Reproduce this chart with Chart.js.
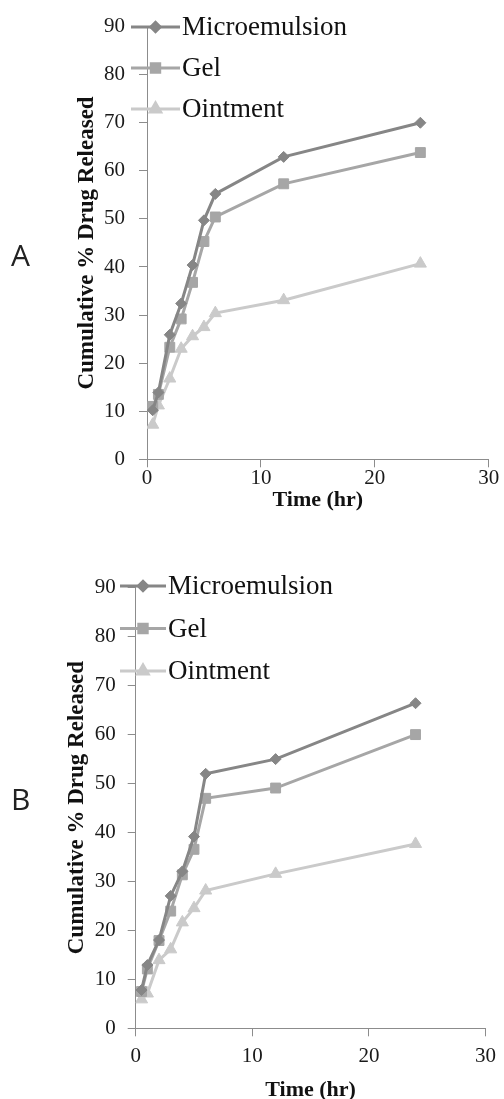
<!DOCTYPE html>
<html>
<head>
<meta charset="utf-8">
<script src="https://cdn.jsdelivr.net/npm/chart.js@4.4.0/dist/chart.umd.min.js"></script>
<style>
    html, body { margin: 0; padding: 0; background: #fff; overflow: hidden; }
    .panel { position: absolute; left: 0; width: 504px; }
    .panel-label { position: absolute; left: 11px; font-family: 'Open Sans', sans-serif; font-size: 30px; color: #222; line-height: 1; }
</style>
</head>
<body>
<div class="panel" style="top:0;height:530px;"><canvas id="chartA" width="504" height="530"></canvas></div>
<div class="panel" style="top:530px;height:580px;"><canvas id="chartB" width="504" height="580"></canvas></div>
<div class="panel-label" style="top:240px;">A</div>
<div class="panel-label" style="top:784px;">B</div>
<script>
// Sampling times (hr)
const timePoints = [0.5, 1, 2, 3, 4, 5, 6, 12, 24];
const seriesNames = ['Microemulsion', 'Gel', 'Ointment'];

// Panel A - cumulative % drug released
const aMicroemulsion = [10.2, 13.9, 25.9, 32.4, 40.4, 49.7, 55.2, 62.9, 70.0];
const aGel = [11.0, 13.5, 23.3, 29.2, 36.8, 45.3, 50.4, 57.3, 63.8];
const aOintment = [7.2, 11.2, 16.8, 23.0, 25.6, 27.5, 30.4, 33.1, 40.7];

// Panel B - cumulative % drug released
const bMicroemulsion = [7.8, 12.9, 18.0, 27.0, 32.0, 39.1, 51.9, 54.9, 66.3];
const bGel = [7.5, 12.1, 17.9, 23.9, 31.3, 36.5, 46.9, 49.0, 59.9];
const bOintment = [5.9, 7.1, 13.9, 16.1, 21.6, 24.5, 28.1, 31.5, 37.6];

// Axis ticks
const xTickValues = [0, 10, 20, 30];
const yTickValues = [0, 10, 20, 30, 40, 50, 60, 70, 80, 90];

const seriesStyles = [
    { color: '#868686', pointStyle: 'rectRot', radius: 5.5 },
    { color: '#a6a6a6', pointStyle: 'rect', radius: 7 },
    { color: '#cacaca', pointStyle: 'triangle', radius: 7 }
];

const axisColor = '#8c8c8c';
const serif = "'Liberation Serif', 'Times New Roman', serif";

// Legend drawn inside the plot, line sample + marker + label
const insideLegend = {
    id: 'insideLegend',
    afterDraw(chart, args, opts) {
        const ctx = chart.ctx;
        ctx.save();
        ctx.font = opts.font;
        ctx.textBaseline = 'middle';
        ctx.textAlign = 'left';
        chart.data.datasets.forEach((ds, i) => {
            const y = opts.y + i * opts.gap;
            ctx.strokeStyle = ds.borderColor;
            ctx.lineWidth = ds.borderWidth;
            ctx.beginPath();
            ctx.moveTo(opts.x, y);
            ctx.lineTo(opts.x + opts.lineLength, y);
            ctx.stroke();
            ctx.fillStyle = ds.borderColor;
            ctx.strokeStyle = ds.borderColor;
            if (Chart.helpers && Chart.helpers.drawPoint) {
                Chart.helpers.drawPoint(ctx, {
                    pointStyle: ds.pointStyle,
                    radius: ds.pointRadius * 0.85,
                    borderWidth: 1,
                    rotation: 0
                }, opts.x + opts.lineLength / 2, y);
            }
            ctx.fillStyle = '#111';
            ctx.fillText(ds.label, opts.x + opts.lineLength + opts.textGap, y + 1);
        });
        ctx.restore();
    }
};

function buildDatasets(values) {
    return values.map((vals, i) => ({
        label: seriesNames[i],
        data: timePoints.map((t, j) => ({ x: t, y: vals[j] })),
        borderColor: seriesStyles[i].color,
        backgroundColor: seriesStyles[i].color,
        pointBackgroundColor: seriesStyles[i].color,
        pointBorderColor: seriesStyles[i].color,
        pointStyle: seriesStyles[i].pointStyle,
        pointRadius: seriesStyles[i].radius,
        pointBorderWidth: 1,
        borderWidth: 3,
        tension: 0,
        fill: false
    }));
}

function makeChart(canvasId, values, layout) {
    const ctx = document.getElementById(canvasId).getContext('2d');
    return new Chart(ctx, {
        type: 'line',
        data: { datasets: buildDatasets(values) },
        options: {
            responsive: false,
            animation: false,
            layout: { padding: { top: layout.top, right: layout.right, left: 0, bottom: 0 } },
            scales: {
                x: {
                    type: 'linear',
                    min: 0,
                    max: 30,
                    afterBuildTicks: scale => { scale.ticks = xTickValues.map(v => ({ value: v })); },
                    afterFit: scale => { scale.height = layout.xHeight; },
                    grid: { drawOnChartArea: false, drawTicks: true, tickLength: 8, color: axisColor },
                    border: { color: axisColor, width: 1 },
                    ticks: { color: '#1a1a1a', font: { family: serif, size: 21 }, padding: layout.xTickPad, maxRotation: 0 },
                    title: {
                        display: true,
                        text: 'Time (hr)',
                        color: '#111',
                        font: { family: serif, size: 22, weight: 'bold' },
                        padding: { top: 0, bottom: layout.xTitlePad }
                    }
                },
                y: {
                    min: 0,
                    max: 90,
                    afterBuildTicks: scale => { scale.ticks = yTickValues.map(v => ({ value: v })); },
                    afterFit: scale => { scale.width = layout.left; },
                    grid: { drawOnChartArea: false, drawTicks: true, tickLength: 8, color: axisColor },
                    border: { color: axisColor, width: 1 },
                    ticks: { color: '#1a1a1a', font: { family: serif, size: 21 }, padding: layout.yTickPad },
                    title: {
                        display: true,
                        text: 'Cumulative % Drug Released',
                        color: '#111',
                        font: { family: serif, size: 23, weight: 'bold' },
                        padding: { top: layout.yTitlePad, bottom: 0 }
                    }
                }
            },
            plugins: {
                legend: { display: false },
                tooltip: { enabled: false },
                insideLegend: {
                    x: layout.legendX,
                    y: layout.legendY,
                    gap: layout.legendGap,
                    lineLength: layout.legendLine,
                    textGap: 2,
                    font: "27px " + serif
                }
            }
        },
        plugins: [insideLegend]
    });
}

makeChart('chartA', [aMicroemulsion, aGel, aOintment], {
    top: 25, right: 15.3, left: 147, xHeight: 70.7,
    xTickPad: -1, xTitlePad: 16.8, yTickPad: 14, yTitlePad: 73,
    legendX: 131, legendY: 27, legendGap: 41, legendLine: 49
});

makeChart('chartB', [bMicroemulsion, bGel, bOintment], {
    top: 57, right: 14.7, left: 135.7, xHeight: 81.7,
    xTickPad: 8, xTitlePad: 6.8, yTickPad: 12, yTitlePad: 63,
    legendX: 120, legendY: 56, legendGap: 42.5, legendLine: 46
});
</script>
</body>
</html>
